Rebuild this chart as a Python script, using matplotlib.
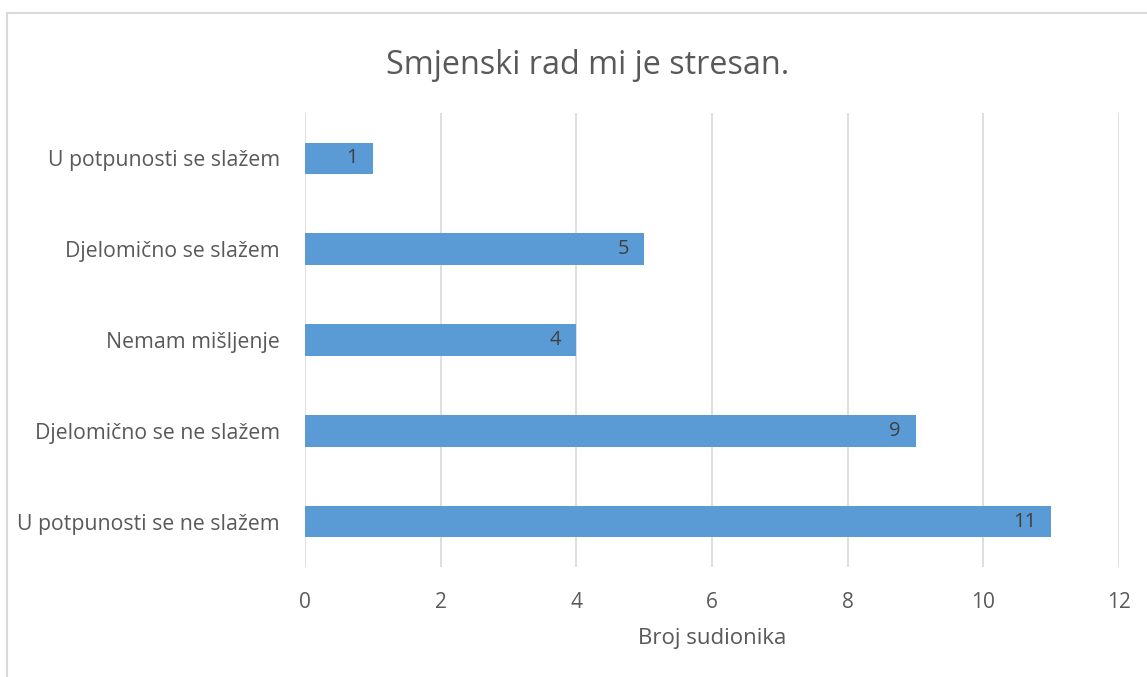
import matplotlib
matplotlib.use("Agg")
import matplotlib.pyplot as plt
from matplotlib.patches import Rectangle

categories = ["U potpunosti se ne slažem", "Djelomično se ne slažem", "Nemam mišljenje",
              "Djelomično se slažem", "U potpunosti se slažem"]
values = [11, 9, 4, 5, 1]
xticks = [0, 2, 4, 6, 8, 10, 12]

plt.rcParams['font.family'] = ['Open Sans', 'DejaVu Sans']
txt = '#595959'

fig = plt.figure(figsize=(11.47, 6.77), dpi=100)
fig.patches.append(Rectangle((7/1147, -0.1), 1.2, 1.1 - 13/677, transform=fig.transFigure,
                             fill=False, edgecolor='#d9d9d9', linewidth=1.5, zorder=0))
ax = fig.add_axes([305/1147, 1 - 567/677, (1119 - 305)/1147, (567 - 113)/677])

ypos = list(range(len(categories)))
bars = ax.barh(ypos, values, height=0.35, color='#5B9BD5', zorder=3)
for b, v in zip(bars, values):
    ax.text(b.get_width() - 0.22, b.get_y() + b.get_height()/2, str(v),
            ha='right', va='center', fontsize=14.5, color='#404040', zorder=4)

ax.set_xlim(0, 12)
ax.set_ylim(-0.5, len(categories) - 0.5)
ax.set_xticks(xticks)
ax.set_xticklabels([str(t) for t in xticks])
ax.set_yticks(ypos)
ax.set_yticklabels(categories)
ax.grid(axis='x', color='#d9d9d9', linewidth=1.2, zorder=0)
for s in ax.spines.values():
    s.set_visible(False)
ax.tick_params(axis='x', length=0, pad=18, labelsize=15, labelcolor=txt)
ax.tick_params(axis='y', length=0, pad=18, labelsize=15.3, labelcolor=txt)
ax.set_xlabel('Broj sudionika', fontsize=16, color=txt, labelpad=11)
fig.text(587.5 / 1147, 1 - 65/677, 'Smjenski rad mi je stresan.',
         ha='center', va='center', fontsize=23.3, color=txt)
fig.savefig('out.png', dpi=100, facecolor='white')
